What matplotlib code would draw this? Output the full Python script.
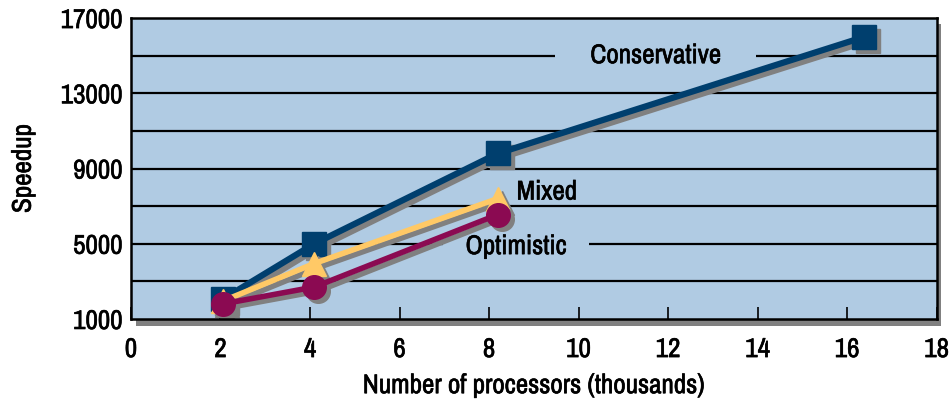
import matplotlib
matplotlib.use("Agg")
import matplotlib.pyplot as plt
import matplotlib.transforms as mtransforms
import matplotlib.patheffects as pe
from matplotlib.patches import Rectangle

plt.rcParams['font.family'] = ['Archivo Narrow', 'DejaVu Sans']

# processors in thousands
procs = [2.048, 4.096, 8.192, 16.384]
conservative = [2050, 5000, 9800, 16000]
mixed = [1950, 3950, 7400]
optimistic = [1800, 2700, 6550]

ytick_vals = [1000, 5000, 9000, 13000, 17000]
grid_vals = [3000, 5000, 7000, 9000, 11000, 13000, 15000]
xtick_vals = [0, 2, 4, 6, 8, 10, 12, 14, 16, 18]

bg = '#b0cbe3'
shadow = '#808080'
fs = 19.5
heavy = [pe.withStroke(linewidth=0.45, foreground='black')]

fig = plt.figure(figsize=(9.49, 4.01), dpi=100)
ax = fig.add_axes([0.138, 0.2045, 0.849, 0.7505])
ax.set_facecolor(bg)
ax.set_xlim(0, 18)
ax.set_ylim(1000, 17000)

for g in grid_vals:
    ax.axhline(g, color='black', lw=1.6, zorder=1)

# drop shadow offset for the series
off = mtransforms.ScaledTranslation(0.04, -0.04, fig.dpi_scale_trans)
shadow_tr = ax.transData + off

series = [
    (conservative, '#003f6e', 's', 17, 4.5),
    (mixed, '#ffc966', '^', 17, 4.0),
    (optimistic, '#8b0a52', 'o', 17, 4.0),
]
z = 3
for vals, color, marker, ms, lw in series:
    xs = procs[:len(vals)]
    ax.plot(xs, vals, color=shadow, lw=lw, marker=marker, ms=ms, mec=shadow,
            transform=shadow_tr, zorder=z, solid_capstyle='butt')
    ax.plot(xs, vals, color=color, lw=lw, marker=marker, ms=ms, mec=color,
            zorder=z + 1, solid_capstyle='butt')
    z += 2

# series labels; padded boxes break the gridlines around them
ax.text(11.72, 15000, '     Conservative     ', fontsize=fs, ha='center', va='center',
        zorder=2, path_effects=heavy,
        bbox=dict(facecolor=bg, edgecolor='none', boxstyle='square,pad=0.15'))
ax.text(9.29, 7750, 'Mixed', fontsize=fs, ha='center', va='center', zorder=2,
        path_effects=heavy)
ax.text(8.6, 4850, '   Optimistic   ', fontsize=fs, ha='center', va='center', zorder=2,
        path_effects=heavy,
        bbox=dict(facecolor=bg, edgecolor='none', boxstyle='square,pad=0.15'))

ax.set_yticks(ytick_vals)
ax.set_xticks(xtick_vals)
ax.tick_params(axis='y', length=0, labelsize=fs, pad=6)
ax.tick_params(axis='x', direction='in', length=9, width=1.2, labelsize=fs, pad=13)
for lbl in ax.get_xticklabels() + ax.get_yticklabels():
    lbl.set_path_effects(heavy)

for side in ['left', 'right', 'top', 'bottom']:
    ax.spines[side].set_linewidth(1.8)
    ax.spines[side].set_color('black')
    ax.spines[side].set_zorder(10)

# grey drop shadow along the bottom and right edges
ax.add_patch(Rectangle((0.006, -0.022), 0.999, 0.022, transform=ax.transAxes,
                       facecolor=shadow, edgecolor='none', clip_on=False, zorder=0))
ax.add_patch(Rectangle((1.0, -0.022), 0.006, 1.002, transform=ax.transAxes,
                       facecolor=shadow, edgecolor='none', clip_on=False, zorder=0))

ax.set_ylabel('Speedup', fontsize=fs, labelpad=18, path_effects=heavy)
ax.set_xlabel('Number of processors (thousands)', fontsize=fs, labelpad=8,
              path_effects=heavy)

fig.savefig('out.png', dpi=100)
